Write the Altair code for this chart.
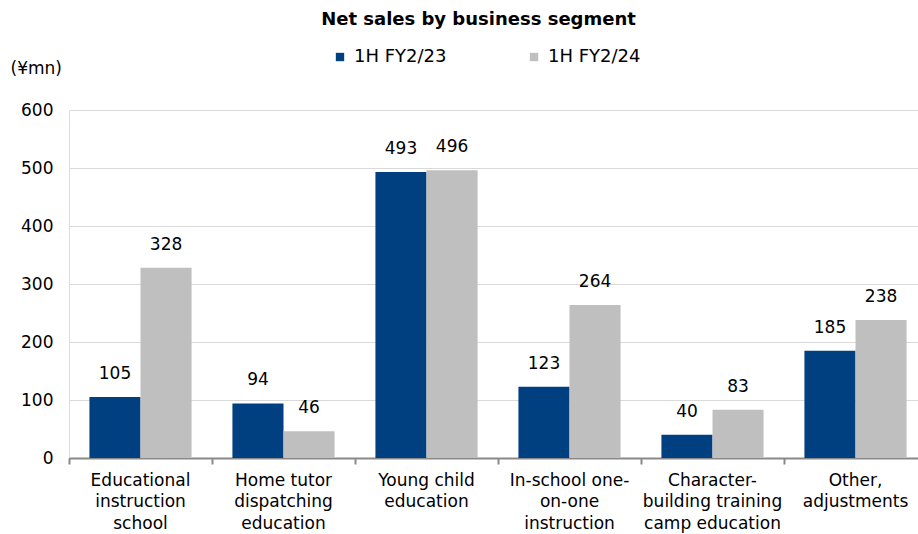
import altair as alt
import pandas as pd

categories = [
    "Educational\ninstruction\nschool",
    "Home tutor\ndispatching\neducation",
    "Young child\neducation",
    "In-school one-\non-one\ninstruction",
    "Character-\nbuilding training\ncamp education",
    "Other,\nadjustments",
]
series = ["1H FY2/23", "1H FY2/24"]
fy23 = [105, 94, 493, 123, 40, 185]
fy24 = [328, 46, 496, 264, 83, 238]
y_ticks = [0, 100, 200, 300, 400, 500, 600]
colors = ["#003F80", "#BFBFBF"]

rows = []
for c, a, b in zip(categories, fy23, fy24):
    rows.append({"cat": c, "series": series[0], "value": a})
    rows.append({"cat": c, "series": series[1], "value": b})
df = pd.DataFrame(rows)

FONT = "DejaVu Sans"

x_enc = alt.X(
    "cat:N",
    sort=categories,
    scale=alt.Scale(range=[0, 858], paddingInner=0, paddingOuter=0),
    axis=alt.Axis(
        title=None,
        labelAngle=0,
        labelExpr="split(datum.label, '\\n')",
        labelFont=FONT,
        labelFontSize=17,
        labelColor="#000000",
        labelLineHeight=21.5,
        labelPadding=8,
        labelOverlap=False,
        labelFlush=False,
        labelBaseline="top",
        bandPosition=0,
        domainColor="#898989",
        domainWidth=2,
        tickColor="#898989",
        tickWidth=2,
        tickSize=6,
        grid=False,
    ),
)
xoff = alt.XOffset("series:N", sort=series,
                   scale=alt.Scale(paddingInner=0, paddingOuter=0.4))
y_enc = alt.Y(
    "value:Q",
    scale=alt.Scale(domain=[0, 600], nice=False),
    axis=alt.Axis(
        values=y_ticks,
        title="(¥mn)",
        titleAngle=0,
        titleAlign="left",
        titleBaseline="middle",
        titleX=-59,
        titleY=-42,
        titleFont=FONT,
        titleFontSize=17,
        titleFontWeight="normal",
        titleColor="#000000",
        labelFont=FONT,
        labelFontSize=17,
        labelColor="#000000",
        labelPadding=16,
        domain=False,
        ticks=False,
        gridColor="#D9D9D9",
        gridWidth=1,
    ),
)

bars = alt.Chart(df).mark_bar(clip=True).encode(
    x=x_enc,
    xOffset=xoff,
    y=y_enc,
    color=alt.Color(
        "series:N",
        sort=series,
        scale=alt.Scale(domain=series, range=colors),
        legend=alt.Legend(
            title=None,
            orient="none",
            direction="horizontal",
            legendX=262,
            legendY=-62,
            symbolType="square",
            symbolSize=70,
            symbolStrokeWidth=0,
            labelFont=FONT,
            labelFontSize=18,
            labelColor="#000000",
            labelOffset=5,
            columnPadding=78,
        ),
    ),
)

labels = alt.Chart(df).mark_text(
    font=FONT, fontSize=17, color="#000000", baseline="alphabetic", dy=-18
).encode(
    x=alt.X("cat:N", sort=categories),
    xOffset=alt.XOffset("series:N", sort=series),
    y="value:Q",
    text=alt.Text("value:Q"),
)

chart = (
    alt.layer(bars, labels)
    .properties(
        width=849,
        height=348,
        autosize=alt.AutoSizeParams(type="none"),
        padding={"left": 69, "top": 110, "right": 0, "bottom": 76},
        title=alt.TitleParams(
            "Net sales by business segment",
            font=FONT,
            fontSize=18,
            fontWeight="bold",
            color="#000000",
            anchor="middle",
            offset=19,
            dx=-15,
        ),
    )
    .configure_view(stroke=None)
    .configure(background="#FFFFFF")
)

chart.save("out.html", embed_options={"renderer": "svg", "actions": False})
